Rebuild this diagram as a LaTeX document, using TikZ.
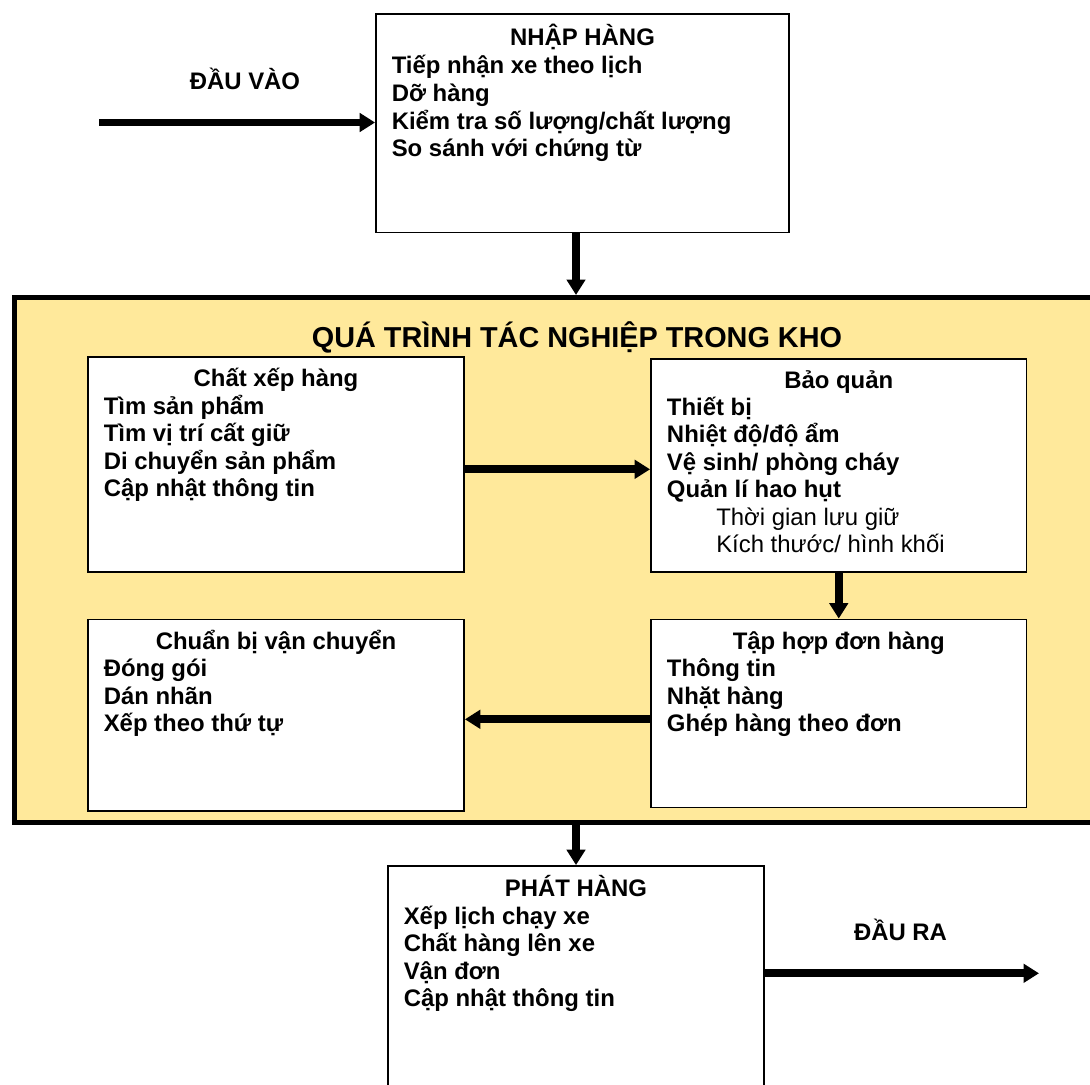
\documentclass[tikz,border=0pt]{standalone}
\usepackage{fontspec}
\setmainfont{Liberation Sans}
\usetikzlibrary{arrows.meta}
\definecolor{khovang}{RGB}{255,233,155}
\newlength\px
\setlength\px{0.025cm}
\tikzset{
  hop/.style={draw=black, line width=1.3pt, fill=white, inner sep=0pt},
  muiten/.style={line width=5.5pt, -{Triangle[length=11pt,width=13pt]}},
  dong/.style={font=\fontsize{17pt}{20pt}\selectfont\bfseries, anchor=base west, inner sep=0pt},
  dongmanh/.style={font=\fontsize{17pt}{20pt}\selectfont, anchor=base west, inner sep=0pt},
  tieude/.style={font=\fontsize{17pt}{20pt}\selectfont\bfseries, anchor=base, inner sep=0pt}
}
\begin{document}
\begin{tikzpicture}[x=0.025cm, y=-0.025cm]
\useasboundingbox (0,0) rectangle (1090,1084);

% khung kho
\node[draw=black, line width=3.6pt, fill=khovang, inner sep=0pt,
  minimum width=1185.5\px, minimum height=525\px] (kho) at (607.25,560) {};
\node[tieude, font=\fontsize{20.5pt}{24pt}\selectfont\bfseries] (kho-tieu) at (577,347) {QUÁ TRÌNH TÁC NGHIỆP TRONG KHO};

% cac hop
\node[hop, minimum width=413\px, minimum height=218.5\px] (nhap) at (582.5,123.25) {};
\node[hop, minimum width=376\px, minimum height=215\px] (xep) at (276,464.5) {};
\node[hop, minimum width=375.5\px, minimum height=213\px] (bao) at (838.75,465.5) {};
\node[hop, minimum width=376\px, minimum height=191.5\px] (chuan) at (276,715.25) {};
\node[hop, minimum width=375.5\px, minimum height=188\px] (taphop) at (838.75,713.5) {};
\node[hop, minimum width=376\px, minimum height=244\px] (phat) at (576,988) {};

% chu trong hop
\node[tieude] (nhap-tieu) at (582.5,46) {NHẬP HÀNG};
\foreach \t [count=\i] in {Tiếp nhận xe theo lịch, Dỡ hàng, Kiểm tra số lượng/chất lượng, So sánh với chứng từ}
  \node[dong] (nhap-\i) at (391.5,{74+27.5*(\i-1)}) {\t};

\node[tieude] (xep-tieu) at (276,386.7) {Chất xếp hàng};
\foreach \t [count=\i] in {Tìm sản phẩm, Tìm vị trí cất giữ, Di chuyển sản phẩm, Cập nhật thông tin}
  \node[dong] (xep-\i) at (103.5,{414.3+27.5*(\i-1)}) {\t};

\node[tieude] (bao-tieu) at (838.75,388.3) {Bảo quản};
\foreach \t [count=\i] in {Thiết bị, Nhiệt độ/độ ẩm, Vệ sinh/ phòng cháy, Quản lí hao hụt}
  \node[dong] (bao-\i) at (666.7,{415+27.5*(\i-1)}) {\t};
\node[dongmanh] (bao-5) at (716,525) {Thời gian lưu giữ};
\node[dongmanh] (bao-6) at (716,552.5) {Kích thước/ hình khối};

\node[tieude] (chuan-tieu) at (276,649.3) {Chuẩn bị vận chuyển};
\foreach \t [count=\i] in {Đóng gói, Dán nhãn, Xếp theo thứ tự}
  \node[dong] (chuan-\i) at (103.5,{676.7+27.5*(\i-1)}) {\t};

\node[tieude] (taphop-tieu) at (838.75,649.3) {Tập hợp đơn hàng};
\foreach \t [count=\i] in {Thông tin, Nhặt hàng, Ghép hàng theo đơn}
  \node[dong] (taphop-\i) at (666.7,{676.7+27.5*(\i-1)}) {\t};

\node[tieude] (phat-tieu) at (576,896.7) {PHÁT HÀNG};
\foreach \t [count=\i] in {Xếp lịch chạy xe, Chất hàng lên xe, Vận đơn, Cập nhật thông tin}
  \node[dong] (phat-\i) at (403.5,{924+27.5*(\i-1)}) {\t};

% dau vao, dau ra
\node[tieude] (vao-nhan) at (245,89.3) {ĐẦU VÀO};
\node[tieude] (ra-nhan) at (900.5,940) {ĐẦU RA};
\coordinate (vao) at (99,122.5);
\coordinate (ra) at (1039,973.3);

% mui ten
\draw[muiten] (vao) -- (vao -| nhap.west);
\draw[muiten] (nhap.south -| phat.north) -- (kho.north -| phat.north);
\draw[muiten] ([yshift=-4.8\px]xep.east) -- ([yshift=-3.8\px]bao.west);
\draw[muiten] (bao.south) -- (taphop.north);
\draw[muiten] ([yshift=-5.8\px]taphop.west) -- ([yshift=-4.05\px]chuan.east);
\draw[muiten] (kho.south -| phat.north) -- (phat.north);
\draw[muiten] (ra -| phat.east) -- (ra);
\end{tikzpicture}
\end{document}
